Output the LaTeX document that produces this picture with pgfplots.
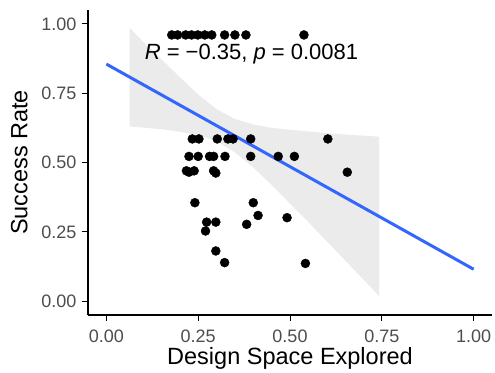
\documentclass[border=0pt]{standalone}
\usepackage{fontspec}
\setmainfont{Liberation Sans}
\usepackage{pgfplots}
\pgfplotsset{compat=1.18}
\usepackage{pgfplotstable}
\definecolor{ribbon}{RGB}{235,235,235}
\definecolor{smoothblue}{RGB}{51,102,255}
\definecolor{ticktext}{RGB}{77,77,77}

\pgfplotstableread{
x y
0.178 0.960
0.194 0.960
0.216 0.960
0.232 0.960
0.249 0.960
0.268 0.960
0.287 0.960
0.322 0.960
0.350 0.960
0.380 0.960
0.538 0.960
0.234 0.585
0.252 0.585
0.302 0.585
0.331 0.585
0.345 0.585
0.393 0.585
0.603 0.585
0.225 0.522
0.250 0.522
0.281 0.522
0.292 0.522
0.323 0.522
0.393 0.522
0.468 0.522
0.512 0.522
0.218 0.470
0.225 0.465
0.239 0.470
0.292 0.470
0.298 0.462
0.656 0.465
0.241 0.355
0.273 0.285
0.298 0.285
0.270 0.253
0.298 0.181
0.322 0.139
0.400 0.355
0.413 0.309
0.382 0.277
0.492 0.301
0.542 0.136
}\points

\pgfplotstableread{
x y
0.063 0.986
0.100 0.936
0.150 0.872
0.200 0.808
0.250 0.745
0.300 0.692
0.350 0.657
0.400 0.637
0.450 0.625
0.500 0.618
0.550 0.612
0.600 0.606
0.650 0.601
0.700 0.597
0.743 0.593
0.743 0.018
0.700 0.078
0.650 0.147
0.600 0.216
0.550 0.285
0.500 0.352
0.450 0.419
0.400 0.482
0.350 0.537
0.300 0.577
0.250 0.599
0.200 0.611
0.150 0.620
0.100 0.626
0.063 0.630
}\band

\begin{document}
\begin{tikzpicture}
\begin{axis}[
  scale only axis,
  width=404pt, height=305pt,
  xmin=-0.05, xmax=1.05, ymin=-0.05, ymax=1.05,
  axis lines*=left,
  axis line style={line width=1.1pt, black, -},
  xtick={0,0.25,0.5,0.75,1}, ytick={0,0.25,0.5,0.75,1},
  xticklabels={0.00,0.25,0.50,0.75,1.00},
  yticklabels={0.00,0.25,0.50,0.75,1.00},
  tick align=outside, tick pos=left,
  major tick length=6pt,
  tick style={line width=1pt, black},
  /pgf/number format/assume math mode=true,
  ticklabel style={font=\fontsize{18}{21}\selectfont, text=ticktext},
  xticklabel style={yshift=-5pt},
  yticklabel style={xshift=-2pt},
  label style={font=\fontsize{23.5}{26}\selectfont},
  xlabel={Design Space Explored},
  ylabel={Success Rate},
  xlabel style={yshift=2pt},
  ylabel style={yshift=7pt},
  clip=false,
]
\addplot[fill=ribbon, draw=none] table[x=x,y=y] {\band};
\addplot[only marks, mark=*, mark size=4.5pt, black, mark options={fill=black, draw=black}] table[x=x,y=y] {\points};
\addplot[color=smoothblue, line width=3pt, no marks] coordinates {(0,0.855) (1,0.115)};
\node[anchor=base west, font=\fontsize{22}{25}\selectfont, inner sep=0pt] at (axis cs:0.104,0.873) {\textit{R}~=~−0.35, \textit{p}~=~0.0081};
\end{axis}
\pgfresetboundingbox
\path[use as bounding box] (-88pt,-57pt) rectangle (407pt,315pt);
\end{tikzpicture}
\end{document}
